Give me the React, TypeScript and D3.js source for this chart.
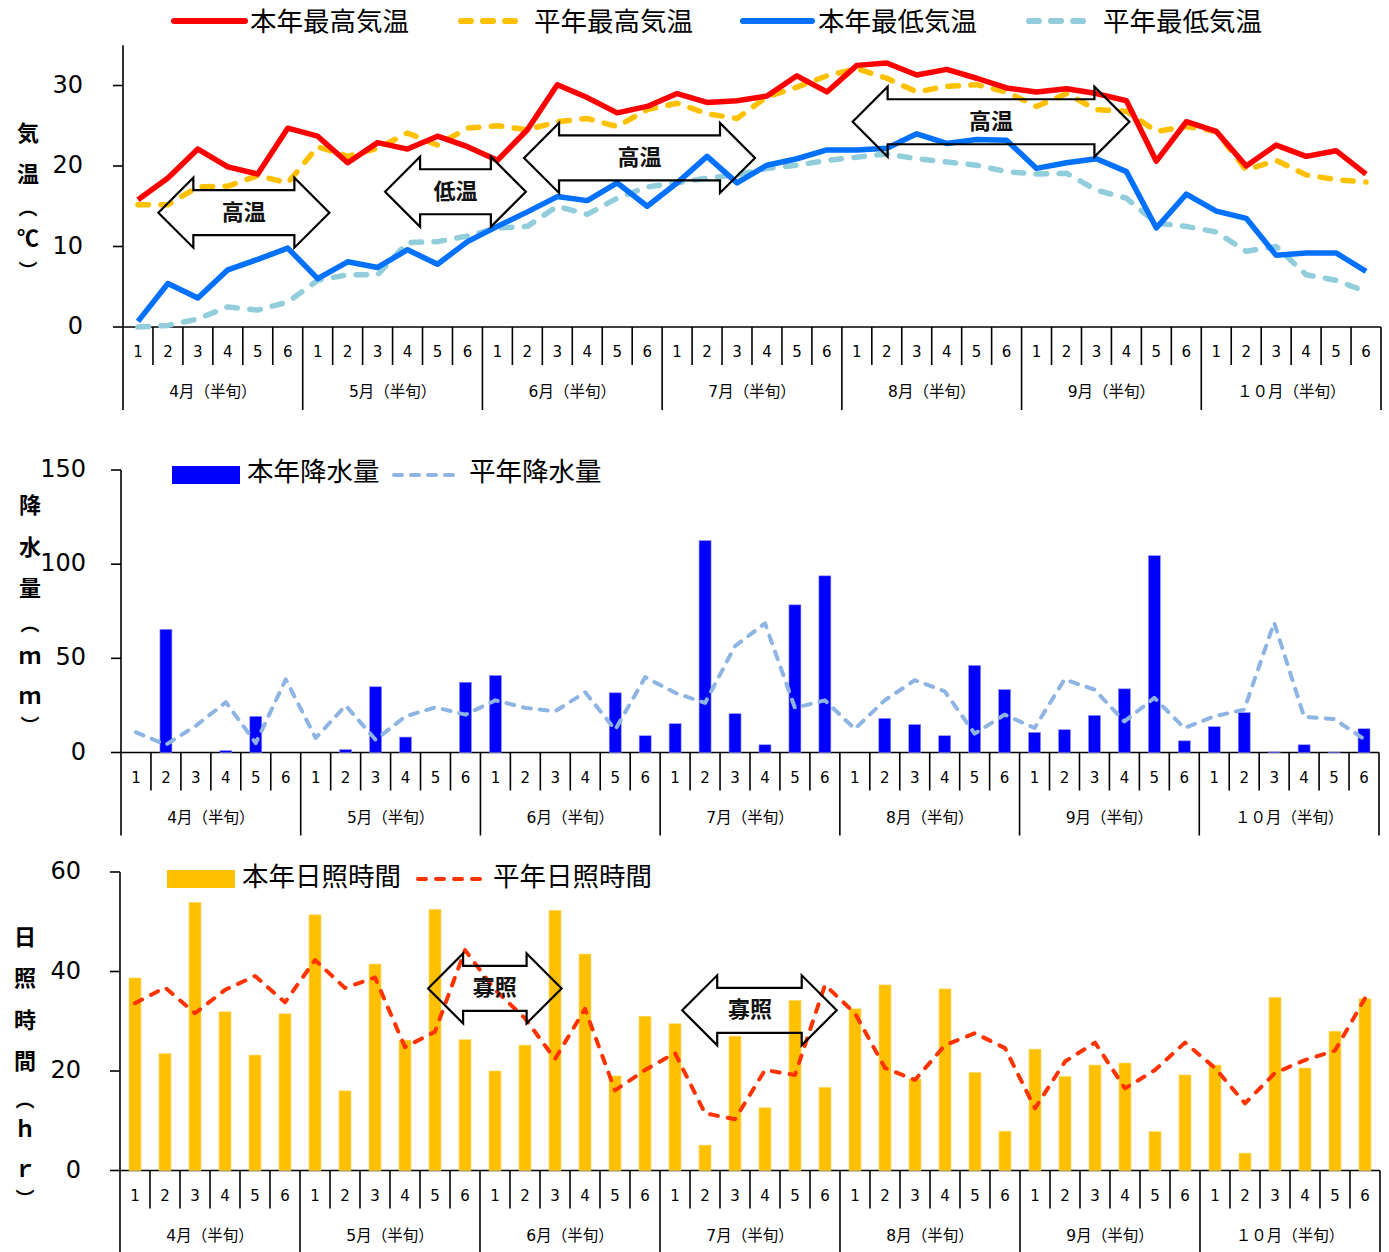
import React from 'react';
import * as d3 from 'd3';

// ---- categories -------------------------------------------------------
const PENTADS = ['1', '2', '3', '4', '5', '6'];
const MONTHS = ['4月（半旬）', '5月（半旬）', '6月（半旬）', '7月（半旬）', '8月（半旬）', '9月（半旬）', '１０月（半旬）'];
const N = MONTHS.length * PENTADS.length;

// ---- temperature (℃) ---------------------------------------------------
const maxTemp = [15.8, 18.5, 22.1, 19.9, 19.0, 24.7, 23.7, 20.4, 22.9, 22.1, 23.7, 22.4, 20.7, 24.5, 30.1, 28.5, 26.6, 27.4, 29.0, 27.9, 28.1, 28.7, 31.2, 29.2, 32.5, 32.8, 31.3, 32.0, 30.9, 29.7, 29.2, 29.6, 29.0, 28.1, 20.6, 25.5, 24.3, 20.0, 22.6, 21.2, 21.9, 19.0];
const normalMaxTemp = [15.2, 15.2, 17.4, 17.5, 18.8, 17.9, 22.4, 21.2, 22.2, 24.1, 22.6, 24.7, 25.0, 24.5, 25.5, 25.9, 24.9, 27.0, 27.8, 26.5, 25.9, 28.6, 29.8, 31.2, 32.1, 30.9, 29.2, 29.9, 30.1, 29.2, 27.4, 29.0, 27.0, 26.8, 24.3, 24.9, 24.3, 19.5, 20.7, 18.9, 18.3, 18.0];
const minTemp = [0.7, 5.4, 3.6, 7.1, 8.4, 9.8, 6.0, 8.1, 7.4, 9.6, 7.8, 10.6, 12.5, 14.3, 16.2, 15.7, 17.9, 15.0, 17.9, 21.2, 17.9, 20.1, 20.9, 22.0, 22.0, 22.2, 24.0, 22.8, 23.3, 23.2, 19.7, 20.4, 20.9, 19.3, 12.3, 16.5, 14.4, 13.5, 8.9, 9.2, 9.2, 6.9];
const normalMinTemp = [0, 0.2, 1.0, 2.5, 2.1, 3.1, 5.8, 6.5, 6.5, 10.5, 10.6, 11.3, 12.3, 12.5, 15.0, 14.0, 16.0, 17.4, 17.9, 18.5, 18.9, 19.7, 20.1, 20.7, 21.1, 21.5, 20.9, 20.5, 20.1, 19.3, 19.0, 19.1, 17.0, 16.0, 12.9, 12.5, 11.8, 9.4, 10.0, 6.5, 5.8, 4.4];
const TEMP_TICKS = [0, 10, 20, 30];

// ---- precipitation (mm) -----------------------------------------------
const precip = [0, 65.4, 0, 1.0, 19.2, 0, 0, 1.5, 34.9, 8.2, 0, 37.3, 40.9, 0, 0, 0, 31.7, 8.9, 15.3, 112.5, 20.6, 4.1, 78.4, 93.8, 0, 18.1, 14.8, 8.9, 46.2, 33.4, 10.7, 12.1, 19.7, 33.8, 104.5, 6.2, 13.7, 21.2, 0.3, 4.1, 0.2, 12.6];
const normalPrecip = [10.7, 4.1, 14.2, 26.7, 5.0, 38.8, 7.7, 24.9, 6.8, 19.2, 24.0, 20.1, 27.7, 23.7, 21.9, 32.0, 12.1, 40.0, 31.7, 26.3, 56.5, 68.6, 23.7, 27.7, 12.5, 27.7, 38.4, 32.5, 10.0, 20.1, 13.0, 38.8, 33.4, 16.5, 29.0, 13.0, 19.2, 22.8, 69.0, 18.9, 17.8, 7.1];
const PRECIP_TICKS = [0, 50, 100, 150];

// ---- sunshine (hr) -----------------------------------------------------
const sunshine = [38.7, 23.5, 53.9, 31.9, 23.2, 31.5, 51.4, 16.0, 41.5, 26.2, 52.5, 26.3, 20.0, 25.2, 52.3, 43.5, 19.0, 31.0, 29.5, 5.1, 27.0, 12.6, 34.2, 16.7, 32.5, 37.3, 18.4, 36.5, 19.7, 7.9, 24.4, 18.9, 21.2, 21.6, 7.8, 19.2, 21.2, 3.5, 34.8, 20.6, 28.0, 34.5];
const normalSunshine = [33.6, 36.8, 31.6, 36.3, 39.1, 33.8, 42.3, 36.7, 38.8, 24.8, 27.9, 44.3, 36.3, 30.6, 22.4, 32.5, 16.1, 20.2, 23.6, 11.5, 10.3, 20.2, 19.2, 37.3, 31.6, 20.6, 18.2, 25.2, 27.6, 24.6, 12.5, 21.9, 25.7, 16.5, 20.2, 25.7, 20.6, 13.5, 19.6, 22.2, 24.1, 34.6];
const SUN_TICKS = [0, 20, 40, 60];

// annotation arrows: from/to in pentad index units, value on the panel's y scale
const TEMP_ARROWS = [
  { from: 0.68, to: 6.39, value: 14.2, label: '高温' },
  { from: 8.25, to: 12.95, value: 16.8, label: '低温' },
  { from: 12.89, to: 20.6, value: 21.0, label: '高温' },
  { from: 23.86, to: 33.1, value: 25.5, label: '高温' },
];
const SUN_ARROWS = [
  { from: 9.77, to: 14.22, value: 36.6, label: '寡照' },
  { from: 18.24, to: 23.39, value: 32.2, label: '寡照', at: 20.5 },
];

const CJK = '"Noto Sans CJK JP", sans-serif';
const NUM = '"DejaVu Sans", "Noto Sans CJK JP", sans-serif';
const IDX = d3.range(N);

/**
 * Shared pentad axis below a panel: baseline, short ticks, month separators.
 */
function CategoryAxis({ x, y0 }: { x: d3.ScaleBand<number>; y0: number }) {
  const bw = x.bandwidth();
  const [left, right] = x.range();
  return (
    <g stroke="#000" strokeWidth={1.6}>
      <line x1={left} x2={right} y1={y0} y2={y0} />
      {d3.range(N + 1).map((i) => {
        const xx = left + i * bw;
        const isMonth = i % 6 === 0;
        return <line key={i} x1={xx} x2={xx} y1={y0} y2={y0 + (isMonth ? 83 : 38)} />;
      })}
      {IDX.map((i) => (
        <text key={'p' + i} x={x(i)! + bw / 2} y={y0 + 25} stroke="none" fill="#000"
          fontFamily={NUM} fontSize={15} textAnchor="middle" dominantBaseline="central">
          {PENTADS[i % 6]}
        </text>
      ))}
      {MONTHS.map((m, k) => (
        <text key={m} x={left + (k * 6 + 3) * bw} y={y0 + 65} stroke="none" fill="#000"
          fontFamily={NUM} fontSize={15.5} textAnchor="middle" dominantBaseline="central">
          {m}
        </text>
      ))}
    </g>
  );
}

function ValueAxis({ y, x0, ticks, labelX }: { y: d3.ScaleLinear<number, number>; x0: number; ticks: number[]; labelX: number }) {
  const [bottom, top] = y.range();
  return (
    <g>
      <line x1={x0} x2={x0} y1={top} y2={bottom} stroke="#000" strokeWidth={1.6} />
      {ticks.map((t) => (
        <g key={t}>
          <line x1={x0 - 10} x2={x0} y1={y(t)} y2={y(t)} stroke="#000" strokeWidth={1.6} />
          <text x={labelX} y={y(t) - 1} textAnchor="end" dominantBaseline="central"
            fontFamily={NUM} fontSize={24} fill="#000">{t}</text>
        </g>
      ))}
    </g>
  );
}

// vertical axis title, one glyph per row; vertical brackets drawn a bit smaller
function VerticalTitle({ x, chars }: { x: number; chars: [string, number][] }) {
  return (
    <g>
      {chars.map(([c, yy], i) => {
        const bracket = c === '︵' || c === '︶';
        return (
          <text key={i} x={x} y={yy} textAnchor="middle" dominantBaseline="central"
            fontFamily={CJK} fontWeight="bold" fontSize={bracket ? 19 : 22} fill="#000">{c}</text>
        );
      })}
    </g>
  );
}

function arrowPoints(xa: number, xb: number, cy: number) {
  const head = 35, half = 35, shaft = 22.5;
  return [
    [xa, cy], [xa + head, cy - half], [xa + head, cy - shaft], [xb - head, cy - shaft],
    [xb - head, cy - half], [xb, cy], [xb - head, cy + half], [xb - head, cy + shaft],
    [xa + head, cy + shaft], [xa + head, cy + half],
  ].map((p) => p.join(',')).join(' ');
}

function Arrows({ items, x, y }: { items: any[]; x: d3.ScaleBand<number>; y: d3.ScaleLinear<number, number> }) {
  const bw = x.bandwidth();
  const pos = (f: number) => x(0)! + bw / 2 + f * bw;
  return (
    <g>
      {items.map((a, i) => (
        <g key={i}>
          <polygon points={arrowPoints(pos(a.from), pos(a.to), y(a.value))}
            fill="none" stroke="#000" strokeWidth={2.2} strokeLinejoin="miter" />
          <text x={pos(a.at ?? (a.from + a.to) / 2)} y={y(a.value) - 3} textAnchor="middle"
            dominantBaseline="central" fontFamily={CJK} fontWeight="bold" fontSize={22} fill="#111">
            {a.label}
          </text>
        </g>
      ))}
    </g>
  );
}

function LegendLine({ x, y, w, tx, ty, color, width, dash, label }: any) {
  return (
    <g>
      <line x1={x} x2={x + w} y1={y} y2={y} stroke={color} strokeWidth={width}
        strokeDasharray={dash} strokeLinecap="round" />
      <text x={tx} y={ty} dominantBaseline="central" fontFamily={CJK} fontSize={26.5} fill="#000">{label}</text>
    </g>
  );
}

function LegendBox({ x, y, w, h, tx, ty, color, label }: any) {
  return (
    <g>
      <rect x={x} y={y - h / 2} width={w} height={h} fill={color} />
      <text x={tx} y={ty} dominantBaseline="central" fontFamily={CJK} fontSize={26.5} fill="#000">{label}</text>
    </g>
  );
}

export default function App() {
  // --- scales per panel
  const xT = d3.scaleBand<number>().domain(IDX).range([123, 1381]);
  const yT = d3.scaleLinear().domain([0, 35]).range([327, 45.25]);
  const xP = d3.scaleBand<number>().domain(IDX).range([121, 1379]);
  const yP = d3.scaleLinear().domain([0, 150]).range([752.5, 470]);
  const xS = d3.scaleBand<number>().domain(IDX).range([120, 1380]);
  const yS = d3.scaleLinear().domain([0, 60]).range([1170.5, 872]);

  const lineOf = (x: d3.ScaleBand<number>, y: d3.ScaleLinear<number, number>) =>
    d3.line<number>().x((_, i) => x(i)! + x.bandwidth() / 2).y((d) => y(d));

  const tLine = lineOf(xT, yT);
  const pLine = lineOf(xP, yP);
  const sLine = lineOf(xS, yS);
  const barW = xP.bandwidth() * 0.4;

  return (
    <div style={{ position: 'absolute', left: 0, top: 0 }}>
      <svg width={1389} height={1252} style={{ display: 'block', background: '#fff' }}>
        {/* ========== temperature ========== */}
        <ValueAxis y={yT} x0={123} ticks={TEMP_TICKS} labelX={83} />
        <CategoryAxis x={xT} y0={327} />
        <VerticalTitle x={28} chars={[['気', 131], ['温', 172], ['︵', 206], ['℃', 236], ['︶', 269]]} />
        <g fill="none" strokeWidth={5.5} strokeLinejoin="round">
          <path d={tLine(normalMinTemp)!} stroke="#92CDDC" strokeDasharray="10.5 12.5" strokeLinecap="round" />
          <path d={tLine(normalMaxTemp)!} stroke="#FFC000" strokeDasharray="10.5 12.5" strokeLinecap="round" />
          <path d={tLine(minTemp)!} stroke="#0070FF" />
          <path d={tLine(maxTemp)!} stroke="#FF0000" />
        </g>
        <Arrows items={TEMP_ARROWS} x={xT} y={yT} />
        <LegendLine x={174} y={21} w={71} tx={250} ty={19.5} color="#FF0000" width={6} label="本年最高気温" />
        <LegendLine x={461} y={21} w={58} tx={534} ty={19.5} color="#FFC000" width={6} dash="10 12" label="平年最高気温" />
        <LegendLine x={743} y={21} w={69} tx={818} ty={19.5} color="#0070FF" width={6} label="本年最低気温" />
        <LegendLine x={1029} y={21} w={61} tx={1103} ty={19.5} color="#92CDDC" width={6} dash="10 12" label="平年最低気温" />

        {/* ========== precipitation ========== */}
        <ValueAxis y={yP} x0={121} ticks={PRECIP_TICKS} labelX={86} />
        <CategoryAxis x={xP} y0={752.5} />
        <VerticalTitle x={30} chars={[['降', 503], ['水', 545], ['量', 586], ['︵', 622], ['ｍ', 654], ['ｍ', 694], ['︶', 724]]} />
        <g>
          {precip.map((v, i) => (
            <rect key={i} x={xP(i)! + xP.bandwidth() / 2 - barW / 2} y={yP(v)} width={barW}
              height={yP(0) - yP(v)} fill="#0000FF" stroke="#8F8FFF" strokeWidth={0.6} />
          ))}
        </g>
        <path d={pLine(normalPrecip)!} fill="none" stroke="#8DB4E2" strokeWidth={4}
          strokeDasharray="8 9" strokeLinecap="round" strokeLinejoin="round" />
        <LegendBox x={172} y={475} w={68} h={18} tx={247} ty={469} color="#0000FF" label="本年降水量" />
        <LegendLine x={394} y={475} w={66} tx={469} ty={469} color="#8DB4E2" width={4} dash="8 9" label="平年降水量" />

        {/* ========== sunshine ========== */}
        <ValueAxis y={yS} x0={120} ticks={SUN_TICKS} labelX={81} />
        <CategoryAxis x={xS} y0={1170.5} />
        <VerticalTitle x={25} chars={[['日', 935], ['照', 976], ['時', 1018], ['間', 1059], ['︵', 1098], ['ｈ', 1127], ['ｒ', 1167], ['︶', 1197]]} />
        <g>
          {sunshine.map((v, i) => (
            <rect key={i} x={xS(i)! + xS.bandwidth() / 2 - barW / 2} y={yS(v)} width={barW}
              height={yS(0) - yS(v)} fill="#FFC000" stroke="#FFD966" strokeWidth={0.6} />
          ))}
        </g>
        <path d={sLine(normalSunshine)!} fill="none" stroke="#FF3300" strokeWidth={4}
          strokeDasharray="8 10" strokeLinecap="round" strokeLinejoin="round" />
        <Arrows items={SUN_ARROWS} x={xS} y={yS} />
        <LegendBox x={167} y={879} w={68} h={18} tx={242} ty={874} color="#FFC000" label="本年日照時間" />
        <LegendLine x={418} y={879} w={67} tx={493} ty={874} color="#FF3300" width={4} dash="8 10" label="平年日照時間" />
      </svg>
    </div>
  );
}
